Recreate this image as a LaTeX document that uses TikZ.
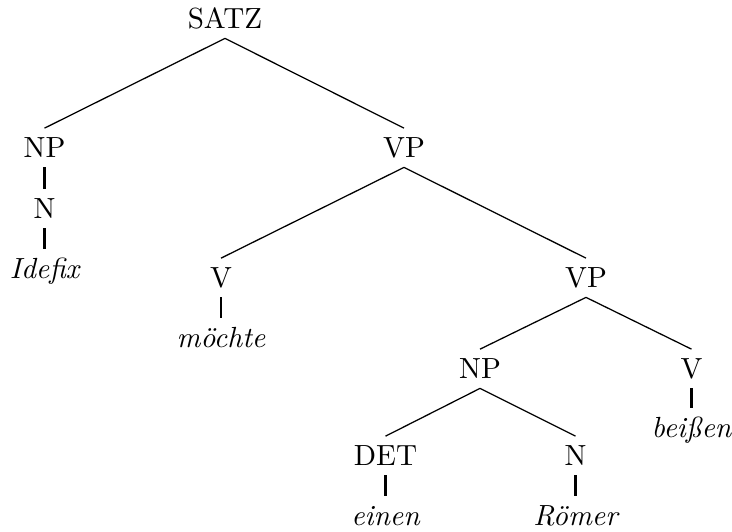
\documentclass[tikz,border=0pt]{standalone}
\usepackage{tikz}
\tikzset{
    cat/.style={anchor=base,inner sep=3pt,text height=7.1pt,text depth=0.5pt,
        font=\fontsize{10.4pt}{12pt}\selectfont},
    word/.style={cat,font=\fontsize{10.4pt}{12pt}\selectfont\itshape},
    branch/.style={line width=0.45pt},
    stem/.style={line width=0.85pt}
}

\begin{document}
\begin{tikzpicture}[x=0.357pt,y=-0.357pt]
    \useasboundingbox (0,0) rectangle (732,531);
    \node[cat] at (225,28) (satz) {SATZ};
    \node[cat] at (44.5,157) (np1) {NP};
    \node[cat] at (44.5,218) (n1) {N};
    \node[word] at (44.5,278) (idefix) {Idefix};
    \node[cat] at (404,157) (vp1) {VP};
    \node[cat] at (221,287) (v1) {V};
    \node[word] at (221,347) (moechte) {möchte};
    \node[cat] at (586,287) (vp2) {VP};
    \node[cat] at (480,378) (np2) {NP};
    \node[cat] at (691.5,378) (v2) {V};
    \node[word] at (691.5,437) (beissen) {beißen};
    \node[cat] at (385.5,465) (det) {DET};
    \node[cat] at (575.5,465) (n2) {N};
    \node[word] at (385.5,525) (einen) {einen};
    \node[word] at (575.5,525) (roemer) {Römer};
    \path[branch]
    (satz.south) edge (np1.north)
    (satz.south) edge (vp1.north)
    (vp1.south) edge (v1.north)
    (vp1.south) edge (vp2.north)
    (vp2.south) edge (np2.north)
    (vp2.south) edge (v2.north)
    (np2.south) edge (det.north)
    (np2.south) edge (n2.north)
    ;
    \path[stem]
    (np1.south) edge (n1.north)
    (n1.south) edge (idefix.north)
    (v1.south) edge (moechte.north)
    (v2.south) edge (beissen.north)
    (det.south) edge (einen.north)
    (n2.south) edge (roemer.north)
    ;
\end{tikzpicture}
\end{document}
